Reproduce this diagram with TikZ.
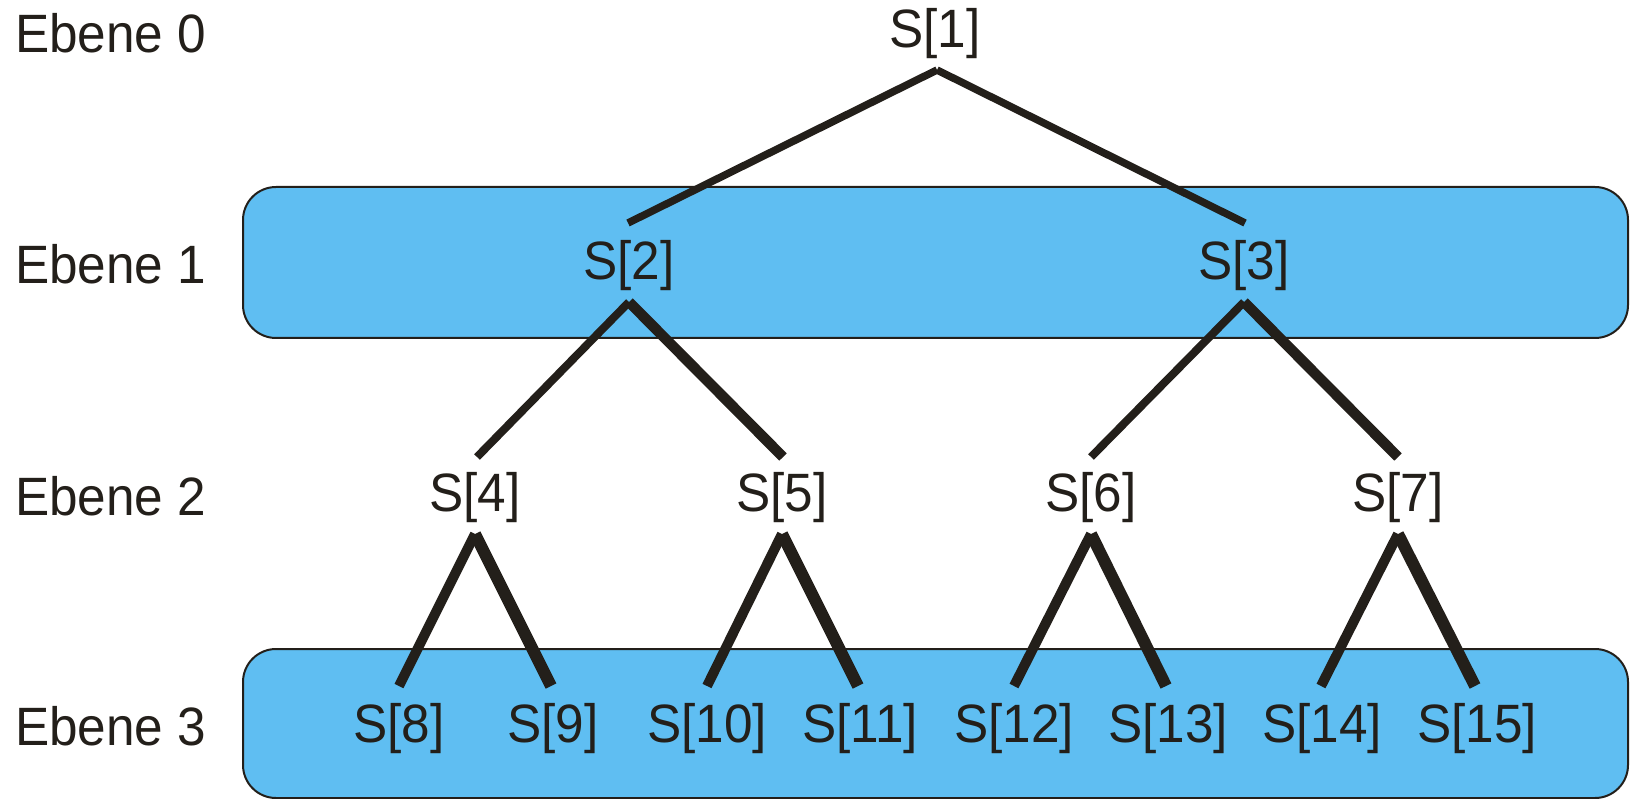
\documentclass[tikz,border=0pt]{standalone}
\usepackage{fontspec}
\setmainfont{Liberation Sans}[FakeStretch=0.95]
\definecolor{boxblue}{RGB}{95,190,242}
\definecolor{ink}{RGB}{35,31,26}
\begin{document}
\begin{tikzpicture}[x=1pt,y=-1pt,
  lbl/.style={font=\fontsize{54}{60}\selectfont, text=ink, inner sep=0pt, anchor=base},
  lvl/.style={font=\fontsize{54}{60}\selectfont, text=ink, inner sep=0pt, anchor=base west},
  band/.style={draw=ink, line width=2pt, fill=boxblue, rounded corners=33pt},
  edge0/.style={draw=ink, line width=7.5pt, line cap=butt},
  edgeL1/.style={draw=ink, line width=8pt, line cap=butt},
  edgeR1/.style={draw=ink, line width=10.5pt, line cap=butt},
  edgeL2/.style={draw=ink, line width=10pt, line cap=butt},
  edgeR2/.style={draw=ink, line width=12pt, line cap=butt}]
\useasboundingbox (0,0) rectangle (1635,799);
% bands
\path[band] (243,187) rectangle (1628,338);
\path[band] (243,649) rectangle (1628,798);
% level labels
\node[lvl] (e0) at (15,53) {Ebene 0};
\node[lvl] (e1) at (15,284) {Ebene 1};
\node[lvl] (e2) at (15,515) {Ebene 2};
\node[lvl] (e3) at (15,745) {Ebene 3};
% tree nodes
\node[lbl] (s1) at (935,48) {S[1]};
\node[lbl] (s2) at (629,280) {S[2]};
\node[lbl] (s3) at (1244,280) {S[3]};
\node[lbl] (s4) at (475,511) {S[4]};
\node[lbl] (s5) at (782,511) {S[5]};
\node[lbl] (s6) at (1091,511) {S[6]};
\node[lbl] (s7) at (1398,511) {S[7]};
\node[lbl] (s8) at (399,742) {S[8]};
\node[lbl] (s9) at (553,742) {S[9]};
\node[lbl] (s10) at (707,742) {S[10]};
\node[lbl] (s11) at (860,742) {S[11]};
\node[lbl] (s12) at (1014,742) {S[12]};
\node[lbl] (s13) at (1168,742) {S[13]};
\node[lbl] (s14) at (1322,742) {S[14]};
\node[lbl] (s15) at (1477,742) {S[15]};
% connector ends
\coordinate (s1d) at (937,70);
\coordinate (s2u) at (628,223);
\coordinate (s3u) at (1245,223);
\coordinate (s2d) at (629,302);
\coordinate (s3d) at (1244,302);
\coordinate (s4u) at (477,457);
\coordinate (s5u) at (783,457);
\coordinate (s6u) at (1091,457);
\coordinate (s7u) at (1398,457);
\coordinate (s4d) at (475,534);
\coordinate (s5d) at (782,534);
\coordinate (s6d) at (1091,534);
\coordinate (s7d) at (1398,534);
\coordinate (s8u) at (399,686);
\coordinate (s9u) at (551,686);
\coordinate (s10u) at (707,686);
\coordinate (s11u) at (858,686);
\coordinate (s12u) at (1014,686);
\coordinate (s13u) at (1166,686);
\coordinate (s14u) at (1321,686);
\coordinate (s15u) at (1475,686);
% connectors
\draw[edge0] (s1d) -- (s2u);
\draw[edge0] (s1d) -- (s3u);
\draw[edgeL1] (s2d) -- (s4u);
\draw[edgeR1] (s2d) -- (s5u);
\draw[edgeL1] (s3d) -- (s6u);
\draw[edgeR1] (s3d) -- (s7u);
\draw[edgeL2] (s4d) -- (s8u);
\draw[edgeR2] (s4d) -- (s9u);
\draw[edgeL2] (s5d) -- (s10u);
\draw[edgeR2] (s5d) -- (s11u);
\draw[edgeL2] (s6d) -- (s12u);
\draw[edgeR2] (s6d) -- (s13u);
\draw[edgeL2] (s7d) -- (s14u);
\draw[edgeR2] (s7d) -- (s15u);
\end{tikzpicture}
\end{document}
